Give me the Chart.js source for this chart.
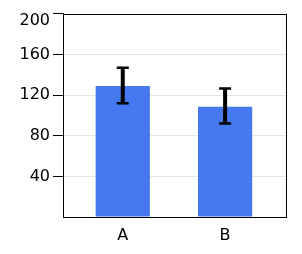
<!DOCTYPE html>
<html>
<head>
<meta charset="utf-8">
<script src="https://cdn.jsdelivr.net/npm/chart.js@4"></script>
<style>
html,body{margin:0;padding:0;background:#fff;}
canvas{display:block;}
</style>
</head>
<body>
<canvas id="c" width="302" height="254"></canvas>
<script>
const categories = ['A', 'B'];
const values = [129, 108.5];
const errLower = [112, 92];
const errUpper = [147, 126.5];
const yMajorTicks = [40, 80, 120, 160, 200];

const FONT = {family: 'DejaVu Sans', size: 16, lineHeight: 0.45};

const frameAndMinor = {
  id: 'frameAndMinor',
  afterDraw(chart) {
    const ctx = chart.ctx, a = chart.chartArea, y = chart.scales.y;
    ctx.save();
    ctx.strokeStyle = '#000';
    ctx.lineWidth = 1;
    ctx.beginPath();
    ctx.moveTo(a.left, Math.round(a.top) + 0.5);
    ctx.lineTo(Math.round(a.right) + 1, Math.round(a.top) + 0.5);
    ctx.moveTo(Math.round(a.right) + 0.5, a.top);
    ctx.lineTo(Math.round(a.right) + 0.5, a.bottom);
    y.ticks.forEach(t => {
      if (t.value % 40 !== 0) {
        const py = Math.round(y.getPixelForValue(t.value)) + 0.5;
        ctx.moveTo(a.left - 5, py);
        ctx.lineTo(a.left, py);
      }
    });
    ctx.stroke();
    ctx.restore();
  }
};

const errorBars = {
  id: 'errorBars',
  afterDatasetsDraw(chart) {
    const ctx = chart.ctx, xs = chart.scales.x, ys = chart.scales.y;
    ctx.save();
    ctx.strokeStyle = '#000';
    categories.forEach((c, i) => {
      const px = xs.getPixelForValue(i);
      const lo = ys.getPixelForValue(errLower[i]);
      const hi = ys.getPixelForValue(errUpper[i]);
      ctx.lineWidth = 4;
      ctx.beginPath();
      ctx.moveTo(px, lo);
      ctx.lineTo(px, hi);
      ctx.stroke();
      ctx.lineWidth = 2.5;
      ctx.beginPath();
      ctx.moveTo(px - 6, hi);
      ctx.lineTo(px + 6, hi);
      ctx.moveTo(px - 6, lo);
      ctx.lineTo(px + 6, lo);
      ctx.stroke();
    });
    ctx.restore();
  }
};

new Chart(document.getElementById('c'), {
  type: 'bar',
  data: {
    datasets: [{
      data: categories.map((c, i) => ({x: i, y: values[i]})),
      backgroundColor: '#4679F0',
      borderWidth: 0,
      categoryPercentage: 1,
      barPercentage: 0.53
    }]
  },
  options: {
    responsive: false,
    animation: false,
    layout: {padding: {left: 0, top: 13, right: 16, bottom: 0}},
    plugins: {legend: {display: false}, tooltip: {enabled: false}},
    scales: {
      x: {
        type: 'linear',
        offset: false,
        min: -0.584,
        max: 1.595,
        afterBuildTicks: s => { s.ticks = categories.map((c, i) => ({value: i})); },
        afterFit: s => { s.height = 37; },
        grid: {display: false, drawTicks: false, offset: false},
        border: {display: true, color: '#000', width: 1},
        ticks: {
          callback: v => categories[v],
          font: {family: 'DejaVu Sans', size: 16},
          color: '#000',
          padding: 9,
          maxRotation: 0
        }
      },
      y: {
        min: 0,
        max: 200,
        afterFit: s => { s.width = 63; },
        grid: {
          color: c => (c.tick && yMajorTicks.includes(c.tick.value) && c.tick.value !== 200) ? '#e6e6e6' : 'rgba(0,0,0,0)',
          tickColor: c => (c.tick && yMajorTicks.includes(c.tick.value)) ? '#000' : 'rgba(0,0,0,0)',
          tickLength: 10,
          lineWidth: 1
        },
        border: {display: true, color: '#000', width: 1},
        ticks: {
          stepSize: 20,
          font: FONT,
          color: '#000',
          padding: 3,
          callback: v => yMajorTicks.includes(v) ? (v === 200 ? ['', '', String(v)] : String(v)) : ''
        }
      }
    }
  },
  plugins: [errorBars, frameAndMinor]
});
</script>
</body>
</html>
